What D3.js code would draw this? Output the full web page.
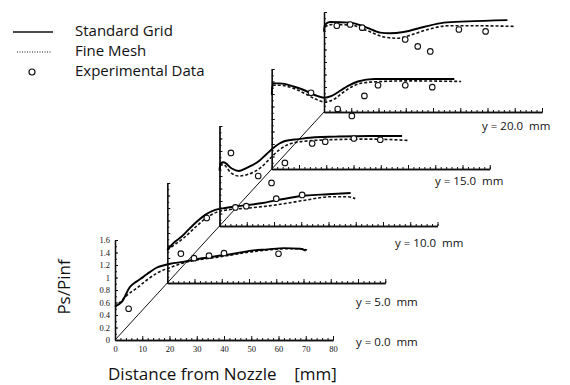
<!DOCTYPE html>
<html><head><meta charset="utf-8">
<script src="https://cdn.jsdelivr.net/npm/d3@7"></script>
<style>html,body{margin:0;padding:0;background:#fff}svg{display:block}</style>
</head><body>
<svg id="c" width="570" height="385"></svg>
<script>
// ---------------- data ----------------
const stations = ["y = 0.0  mm","y = 5.0  mm","y = 10.0  mm","y = 15.0  mm","y = 20.0  mm"];
const xTicks = [0,10,20,30,40,50,60,70,80];
const yTicks = [0,0.2,0.4,0.6,0.8,1,1.2,1.4,1.6];
const yTickLabels = ["0","0.2","0.4","0.6","0.8","1","1.2","1.4","1.6"];

const std0 = [[0,0.54],[2.5,0.61],[5.5,0.85],[7.7,0.93],[10.4,1.01],[12.9,1.09],[15.4,1.16],[18.4,1.20],[20.3,1.22],[25,1.25],[31,1.30],[37,1.34],[43.5,1.38],[50,1.43],[56,1.45],[62,1.47],[68,1.46],[70,1.43]];
const fine0 = [[0,0.53],[2,0.61],[4.5,0.72],[8,0.83],[11.7,0.96],[15.4,1.07],[18.4,1.13],[20.3,1.16],[24,1.22],[30,1.28],[37,1.32],[44,1.37],[50,1.41],[56,1.44],[62,1.46],[68,1.46],[70.5,1.44]];
const exp0 = [[5,0.50],[29,1.31],[34.5,1.35],[40,1.39],[60,1.38]];

const std5 = [[0,0.53],[2.8,0.66],[5.2,0.74],[7.7,0.85],[10.8,0.98],[13.9,1.09],[17.6,1.17],[21.3,1.20],[26,1.23],[35,1.28],[44.6,1.36],[50.8,1.40],[59,1.42],[67.3,1.44]];
const fine5 = [[0,0.53],[3,0.62],[6,0.72],[10,0.88],[14,1.03],[18,1.13],[22,1.17],[30,1.20],[40,1.25],[50,1.32],[60,1.38],[66,1.38],[69,1.35]];
const exp5 = [[5,0.47],[14.5,1.04],[25,1.21],[29,1.23],[40,1.35],[49.5,1.41]];

const std10 = [[0,0.90],[0.4,1.00],[1.5,1.02],[4.5,0.92],[7,0.88],[10,0.93],[14.5,1.04],[17,1.14],[19.5,1.24],[22,1.32],[24,1.36],[29,1.39],[35,1.42],[42.5,1.43],[55,1.44],[67,1.44]];
const fine10 = [[0,0.88],[0.4,0.97],[1.5,0.98],[4,0.86],[7,0.80],[10,0.82],[15,0.93],[19,1.10],[22,1.22],[25,1.30],[30,1.35],[40,1.38],[55,1.39],[69,1.37]];
const exp10 = [[4.2,1.17],[14.2,0.80],[19.1,0.69],[24,1.01],[34,1.32],[38.8,1.35],[49.3,1.40],[59,1.38]];

const std15 = [[0,1.20],[0.4,1.37],[3,1.37],[8,1.32],[12,1.26],[16,1.18],[19.3,1.14],[22,1.17],[25.4,1.26],[28,1.33],[31.6,1.40],[37.7,1.44],[50,1.44],[67,1.44]];
const fine15 = [[0,1.18],[0.4,1.34],[3,1.34],[8,1.29],[12,1.21],[16,1.12],[19.5,1.07],[23,1.12],[26,1.22],[30,1.33],[36,1.39],[50,1.41],[69.5,1.40]];
const exp15 = [[14.4,1.22],[24.2,0.96],[29.4,0.85],[34,1.17],[39,1.34],[49,1.34],[58.9,1.31]];

const std20 = [[0,1.30],[0.4,1.40],[2.2,1.44],[9.6,1.43],[15.7,1.35],[20.6,1.27],[24.3,1.26],[29.2,1.28],[36.6,1.36],[44,1.43],[52.6,1.45],[67.3,1.47]];
const fine20 = [[0,1.28],[0.4,1.36],[3,1.40],[10,1.39],[16,1.30],[22,1.20],[27,1.18],[31,1.22],[38,1.32],[46,1.38],[55,1.38],[69.6,1.37]];
const exp20 = [[4.7,1.38],[9.6,1.40],[14,1.35],[29.8,1.16],[34.4,1.05],[39,0.97],[49.5,1.32],[59.3,1.29]];

const standardGrid = [std0,std5,std10,std15,std20];
const fineMesh = [fine0,fine5,fine10,fine15,fine20];
const experimental = [exp0,exp5,exp10,exp15,exp20];

// ---------------- layout ----------------
const base = {x:115, y:340};
const step = {dx:52.25, dy:-57};
const labelPos = [[356,343],[356,303],[395,244],[435,182],[482,127]];
const font = "'Open Sans', 'DejaVu Sans', sans-serif";
const tickFont = "'Liberation Serif', 'DejaVu Serif', serif";

const svg = d3.select("#c");
const xs = d3.scaleLinear().domain([0,80]).range([0,218]);
const ys = d3.scaleLinear().domain([0,1.6]).range([0,-100]);
const line = d3.line().x(d=>xs(d[0])).y(d=>ys(d[1])).curve(d3.curveMonotoneX);

const origin = i => [base.x + step.dx*i, base.y + step.dy*i];

// diagonal
svg.append("line")
  .attr("x1",origin(0)[0]).attr("y1",origin(0)[1])
  .attr("x2",origin(4)[0]).attr("y2",origin(4)[1])
  .attr("stroke","#111").attr("stroke-width",1);

function styleAxis(g){
  g.select(".domain").attr("stroke","#111").attr("stroke-width",1.3);
  g.selectAll(".tick line").attr("stroke","#111").attr("stroke-width",1);
}

stations.forEach((s,i)=>{
  const [ox,oy] = origin(i);
  const g = svg.append("g").attr("transform",`translate(${ox},${oy})`);
  g.append("g").call(d3.axisBottom(xs).tickValues(d3.range(0,81,2)).tickSize(-2).tickSizeOuter(0).tickFormat(""))
    .call(styleAxis);
  const xa = g.append("g").call(d3.axisBottom(xs).tickValues(xTicks).tickSize(-4).tickSizeOuter(0)
      .tickPadding(6).tickFormat(i===0 ? d3.format("d") : ""))
    .call(styleAxis);
  xa.selectAll("text").attr("font-family",tickFont).attr("font-size",8.5).attr("fill","#111");
  g.append("g").call(d3.axisLeft(ys).tickValues(d3.range(0,1.61,0.1)).tickSize(-2).tickSizeOuter(0).tickFormat(""))
    .call(styleAxis);
  const ya = g.append("g").call(d3.axisLeft(ys).tickValues(yTicks).tickSize(-3).tickSizeOuter(0)
      .tickPadding(5).tickFormat((d,k)=> i===0 ? yTickLabels[k] : ""))
    .call(styleAxis);
  ya.selectAll("text").attr("font-family",tickFont).attr("font-size",8.5).attr("fill","#111");

  g.append("path").datum(fineMesh[i]).attr("d",line).attr("fill","none")
    .attr("stroke","#111").attr("stroke-width",1.6).attr("stroke-dasharray","3,2");
  g.append("path").datum(standardGrid[i]).attr("d",line).attr("fill","none")
    .attr("stroke","#000").attr("stroke-width",1.9);
  g.selectAll("circle.e").data(experimental[i]).enter().append("circle")
    .attr("cx",d=>xs(d[0])).attr("cy",d=>ys(d[1])).attr("r",2.8)
    .attr("fill","#fff").attr("stroke","#111").attr("stroke-width",1.1);

  svg.append("text").attr("x",labelPos[i][0]).attr("y",labelPos[i][1])
    .attr("font-family",font).attr("font-size",11.5).attr("fill","#111")
    .attr("dominant-baseline","middle").style("white-space","pre").text(s);
});

// legend
const lg = svg.append("g");
lg.append("line").attr("x1",13).attr("x2",53).attr("y1",32).attr("y2",32).attr("stroke","#111").attr("stroke-width",1.4);
lg.append("line").attr("x1",17).attr("x2",51).attr("y1",52).attr("y2",52).attr("stroke","#111").attr("stroke-width",1).attr("stroke-dasharray","1,1.5");
lg.append("circle").attr("cx",32).attr("cy",72).attr("r",3).attr("fill","#fff").attr("stroke","#111").attr("stroke-width",1.2);
["Standard Grid","Fine Mesh","Experimental Data"].forEach((t,k)=>{
  lg.append("text").attr("x",75).attr("y",32+20*k).attr("dominant-baseline","middle")
    .attr("font-family",font).attr("font-size",15).attr("fill","#111").text(t);
});

// axis titles
svg.append("text").attr("transform","translate(70,287) rotate(-90)").attr("text-anchor","middle")
  .attr("font-family",font).attr("font-size",17).attr("fill","#111").text("Ps/Pinf");
svg.append("text").attr("x",108).attr("y",380).attr("font-family",font).attr("font-size",17)
  .attr("fill","#111").style("white-space","pre").text("Distance from Nozzle    [mm]");
</script>
</body></html>
